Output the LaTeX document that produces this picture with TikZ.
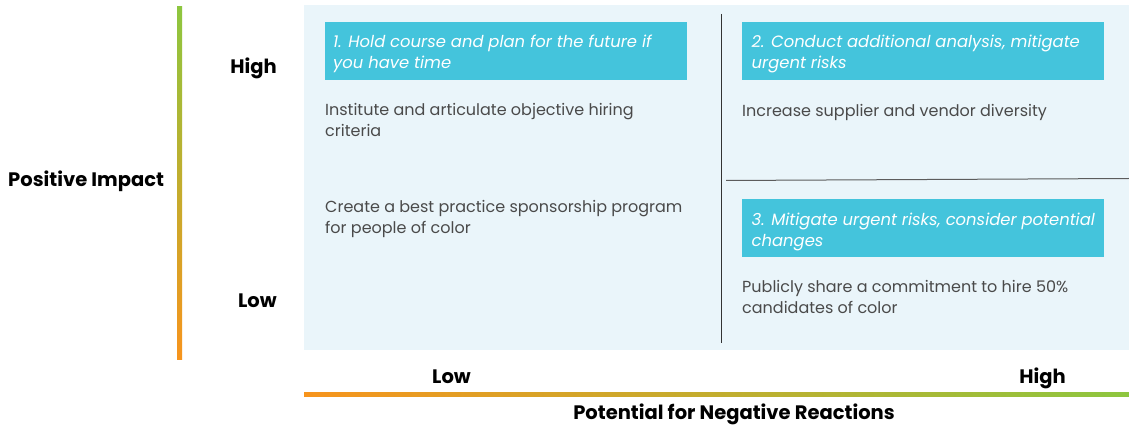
\documentclass[tikz,border=0pt]{standalone}
\usepackage{fontspec}
\setmainfont{Poppins}
\definecolor{panelbg}{HTML}{EAF5FA}
\definecolor{boxcyan}{HTML}{44C4DC}
\definecolor{bodygray}{HTML}{4A4A4A}
\definecolor{divgray}{HTML}{333333}
\definecolor{axgreen}{HTML}{8DC63F}
\definecolor{axorange}{HTML}{F7941D}
\begin{document}
\begin{tikzpicture}[x=1pt,y=-1pt,
  body/.style={anchor=base west,inner sep=0pt,align=left,text=bodygray,font=\fontsize{16}{21}\selectfont},
  boxtxt/.style={anchor=base west,inner sep=0pt,align=left,text=white,font=\fontsize{16.4}{21.3}\selectfont\itshape},
  quadbox/.style={fill=boxcyan,draw=none},
  axlabel/.style={inner sep=0pt,font=\fontsize{19.5}{22}\selectfont\bfseries,text=black},
]
\useasboundingbox (0,0) rectangle (1129,427);
\fill[white] (0,0) rectangle (1129,427);
% panel
\fill[panelbg] (304,5) rectangle (1129,350);
% dividers
\draw[divgray,line width=1pt] (721.5,14) -- (721.5,343);
\draw[divgray!80,line width=1pt] (726,180.5) -- (1129,178.5);
% boxes
\fill[quadbox] (325,22) rectangle (687,80);
\fill[quadbox] (742,22) rectangle (1104,80);
\fill[quadbox] (742,199) rectangle (1104,257);
\node[boxtxt] (b1) at (333,69) {1. Hold course and plan for the future if\\you have time};
\node[boxtxt] (b2) at (751.5,69) {2. Conduct additional analysis, mitigate\\urgent risks};
\node[boxtxt] (b3) at (751.5,247) {3. Mitigate urgent risks, consider potential\\changes};
% body texts
\node[body] (t1) at (325,137) {Institute and articulate objective hiring\\criteria};
\node[body] (t2) at (325,234) {Create a best practice sponsorship program\\for people of color};
\node[body] (t3) at (742,116.5) {Increase supplier and vendor diversity};
\node[body] (t4) at (742,313.5) {Publicly share a commitment to hire 50\%\\candidates of color};
% vertical axis
\shade[top color=axgreen,bottom color=axorange] (177,7) rectangle (182,359);
\node[axlabel,anchor=base east] (yhigh) at (277,74) {High};
\node[axlabel,anchor=base east] (ylow) at (277,308) {Low};
\node[axlabel,anchor=base west] (ytitle) at (8,187) {Positive Impact};
% horizontal axis
\shade[left color=axorange,right color=axgreen] (304,392) rectangle (1129,396.5);
\node[axlabel,anchor=base] (xlow) at (451.5,383) {Low};
\node[axlabel,anchor=base] (xhigh) at (1042.5,383) {High};
\node[axlabel,anchor=base] (xtitle) at (734,419) {Potential for Negative Reactions};
\end{tikzpicture}
\end{document}
